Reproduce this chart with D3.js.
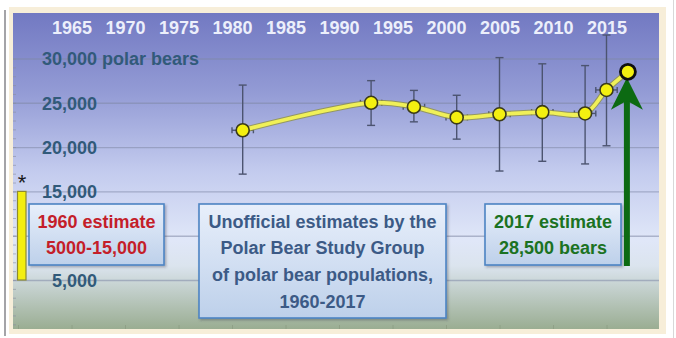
<!DOCTYPE html>
<html>
<head>
<meta charset="utf-8">
<script src="https://cdn.jsdelivr.net/npm/d3@7"></script>
<style>
  html, body { margin: 0; padding: 0; background: #ffffff; }
  svg { display: block; font-family: "Liberation Sans", Arial, sans-serif; font-weight: bold; }
</style>
</head>
<body>
<svg id="chart" width="676" height="338"></svg>
<script>
// Polar bear population estimates (Polar Bear Study Group), 1981-2017
const years     = [1981, 1993, 1997, 2001, 2005, 2009, 2013, 2015, 2017];
const estimates = [21900, 25000, 24550, 23350, 23700, 23950, 23800, 26450, 28500];
const errLow    = [16950, 22450, 22850, 20900, 17300, 18400, 18100, 20150, null];
const errHigh   = [27000, 27500, 26400, 25850, 30100, 29400, 29200, 32650, null];
const yearSpread = 1;   // horizontal uncertainty, years

const yearTicks  = [1965, 1970, 1975, 1980, 1985, 1990, 1995, 2000, 2005, 2010, 2015];
const gridTicks  = [5000, 10000, 15000, 20000, 25000, 30000];
const valueTicks = [5000, 15000, 20000, 25000, 30000];   // 10,000 sits behind the 1960 note

// 1960 range shown as a bar at the left edge
const range1960 = [5000, 15000];

const noteLeft   = ["1960 estimate", "5000-15,000"];
const noteMiddle = ["Unofficial estimates by the", "Polar Bear Study Group", "of polar bear populations,", "1960-2017"];
const noteRight  = ["2017 estimate", "28,500 bears"];

const svg = d3.select("#chart");
const plot = { left: 13, top: 13, right: 659, bottom: 329 };

const x = d3.scaleLinear().domain([1965, 2015]).range([71.5, 606.5]);
const y = d3.scaleLinear().domain([0, 30000]).range([324.3, 58.5]);

const defs = svg.append("defs");
const bg = defs.append("linearGradient").attr("id", "bg").attr("x1", 0).attr("y1", 0).attr("x2", 0).attr("y2", 1);
[[0, "#7279c2"], [0.25, "#939bd5"], [0.5, "#c3cbee"], [0.72, "#e0e7f8"], [0.8, "#dbe4ee"], [1, "#9aad92"]]
  .forEach(([o, c]) => bg.append("stop").attr("offset", o).attr("stop-color", c));
const boxFill = defs.append("linearGradient").attr("id", "boxFill").attr("x1", 0).attr("y1", 0).attr("x2", 0).attr("y2", 1);
[[0, "#e8effb"], [1, "#bdd0ea"]].forEach(([o, c]) => boxFill.append("stop").attr("offset", o).attr("stop-color", c));
const shadow = defs.append("filter").attr("id", "shadow").attr("x", "-10%").attr("y", "-10%").attr("width", "130%").attr("height", "130%");
shadow.append("feDropShadow").attr("dx", 1.5).attr("dy", 1.5).attr("stdDeviation", 1.2).attr("flood-color", "#334").attr("flood-opacity", 0.35);

// outer frame
svg.append("line").attr("x1", 5).attr("x2", 5).attr("y1", 10).attr("y2", 336)
  .attr("stroke", "#a4a4a8").attr("stroke-width", 2);
svg.append("line").attr("x1", 673.5).attr("x2", 673.5).attr("y1", 0).attr("y2", 338)
  .attr("stroke", "#d8d8d8").attr("stroke-width", 1);
svg.append("rect").attr("x", 9).attr("y", 7).attr("width", 657).attr("height", 327).attr("fill", "#f7eed9");
svg.append("rect").attr("x", plot.left).attr("y", plot.top)
  .attr("width", plot.right - plot.left).attr("height", plot.bottom - plot.top).attr("fill", "url(#bg)");

// gridlines
svg.append("g")
  .attr("transform", `translate(${plot.left},0)`)
  .call(d3.axisLeft(y).tickValues(gridTicks).tickSize(-(plot.right - plot.left)).tickFormat(""))
  .call(g => g.select(".domain").remove())
  .call(g => g.selectAll("line").attr("stroke", "#7f88a6").attr("stroke-opacity", 0.55).attr("stroke-width", 1.4));

// small ticks along the left and bottom edges
svg.append("g")
  .attr("transform", `translate(${plot.left},0)`)
  .call(d3.axisRight(y).ticks(35).tickSize(3).tickFormat(""))
  .call(g => g.select(".domain").remove())
  .call(g => g.selectAll("line").attr("stroke", "#8a8ea0").attr("stroke-opacity", 0.6));
svg.append("g")
  .attr("transform", `translate(0,${plot.bottom})`)
  .call(d3.axisTop(x).tickValues(d3.range(1960, 2020, 5)).tickSize(4).tickFormat(""))
  .call(g => g.select(".domain").remove())
  .call(g => g.selectAll("line").attr("stroke", "#8a9a80").attr("stroke-opacity", 0.7));

// year labels along the top
svg.append("g")
  .attr("transform", `translate(0,20)`)
  .call(d3.axisBottom(x).tickValues(yearTicks).tickSize(0).tickFormat(d3.format("d")))
  .call(g => g.select(".domain").remove())
  .call(g => g.selectAll("text").attr("dy", 0).attr("y", 13.5)
    .attr("font-size", 18).attr("font-family", "Liberation Sans, Arial, sans-serif")
    .attr("font-weight", "bold").attr("fill", "#eceffb"));

// value labels, right aligned
const fmt = d3.format(",");
svg.append("g")
  .attr("transform", `translate(97,0)`)
  .call(d3.axisLeft(y).tickValues(valueTicks).tickSize(0).tickPadding(0).tickFormat(fmt))
  .call(g => g.select(".domain").remove())
  .call(g => g.selectAll("text").attr("dy", "0.36em")
    .attr("font-size", 18).attr("font-family", "Liberation Sans, Arial, sans-serif")
    .attr("font-weight", "bold").attr("fill", "#315a7a"));
svg.append("text")
  .attr("x", 102).attr("y", y(30000)).attr("dy", "0.36em")
  .attr("font-size", 18).attr("fill", "#315a7a").text("polar bears");

// 1960 range bar with asterisk
svg.append("rect")
  .attr("x", 17.5).attr("width", 8.5)
  .attr("y", y(range1960[1])).attr("height", y(range1960[0]) - y(range1960[1]))
  .attr("fill", "#f3ee10").attr("stroke", "#8d8a30").attr("stroke-width", 1.2);
svg.append("text").attr("x", 22).attr("y", y(range1960[1]) - 1)
  .attr("text-anchor", "middle").attr("font-size", 22).attr("font-weight", "normal")
  .attr("fill", "#1a1a1a").text("*");

// error bars
const eb = svg.append("g").attr("stroke", "#4c5470").attr("stroke-width", 1.4).attr("fill", "none");
years.forEach((yr, i) => {
  if (errLow[i] == null) return;
  const cx = x(yr);
  eb.append("line").attr("x1", cx).attr("x2", cx).attr("y1", y(errLow[i])).attr("y2", y(errHigh[i]));
  [errLow[i], errHigh[i]].forEach(v =>
    eb.append("line").attr("x1", cx - 4).attr("x2", cx + 4).attr("y1", y(v)).attr("y2", y(v)));
  const cy = y(estimates[i]);
  eb.append("line").attr("x1", x(yr - yearSpread)).attr("x2", x(yr + yearSpread)).attr("y1", cy).attr("y2", cy);
  [yr - yearSpread, yr + yearSpread].forEach(v =>
    eb.append("line").attr("x1", x(v)).attr("x2", x(v)).attr("y1", cy - 3).attr("y2", cy + 3));
});

// trend line
const line = d3.line().x((d, i) => x(years[i])).y(d => y(d)).curve(d3.curveCatmullRom.alpha(0.5));
svg.append("path").datum(estimates).attr("d", line)
  .attr("fill", "none").attr("stroke", "#8f9038").attr("stroke-width", 5.8).attr("stroke-opacity", 0.75);
svg.append("path").datum(estimates).attr("d", line)
  .attr("fill", "none").attr("stroke", "#f0f058").attr("stroke-width", 3.8);

// annotation boxes
function note(x0, y0, w, h, lines, color) {
  const g = svg.append("g");
  g.append("rect").attr("x", x0).attr("y", y0).attr("width", w).attr("height", h)
    .attr("fill", "url(#boxFill)").attr("stroke", "#4d84c4").attr("stroke-width", 1.6)
    .attr("filter", "url(#shadow)");
  g.selectAll("text").data(lines).join("text")
    .attr("x", x0 + w / 2).attr("y", (d, i) => y0 + 23.5 + i * 26.7)
    .attr("text-anchor", "middle").attr("font-size", 18).attr("fill", color).text(d => d);
}
note(29, 204, 135, 61, noteLeft, "#c41e2a");
note(199, 204, 247, 114, noteMiddle, "#3c5a86");
note(485, 204, 136, 61, noteRight, "#1b7222");

// arrow pointing at the 2017 estimate
const ax = x(2017) - 1;
const tipY = y(estimates[estimates.length - 1]) + 6;
svg.append("line").attr("x1", ax).attr("x2", ax).attr("y1", 266).attr("y2", tipY + 22)
  .attr("stroke", "#0c6a12").attr("stroke-width", 6);
svg.append("path")
  .attr("d", `M${ax},${tipY} L${ax + 16},${tipY + 32} L${ax},${tipY + 23} L${ax - 16},${tipY + 32} Z`)
  .attr("fill", "#0c6a12");

// markers
svg.append("g").selectAll("circle").data(estimates).join("circle")
  .attr("cx", (d, i) => x(years[i])).attr("cy", d => y(d))
  .attr("r", (d, i) => i === estimates.length - 1 ? 7.5 : 6.5)
  .attr("fill", "#f4f010")
  .attr("stroke", (d, i) => i === estimates.length - 1 ? "#101010" : "#3a3a1a")
  .attr("stroke-width", (d, i) => i === estimates.length - 1 ? 2.8 : 1.6);
</script>
</body>
</html>
